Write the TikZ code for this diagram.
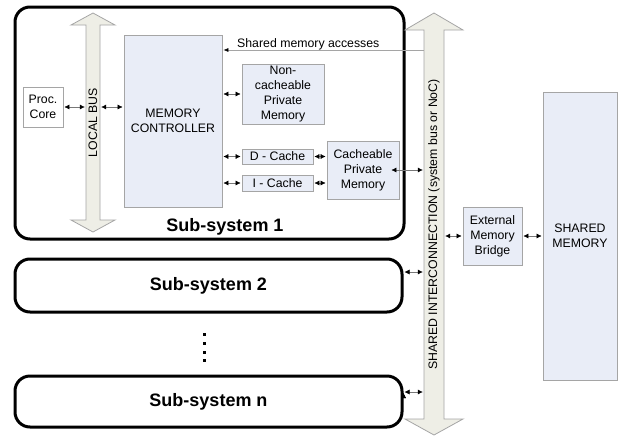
\documentclass[tikz,border=0pt]{standalone}
\usepackage{fontspec}
\setmainfont{Liberation Sans}
\usepackage{tikz}
\usetikzlibrary{arrows.meta, positioning}

\definecolor{boxfill}{RGB}{233,237,247}
\definecolor{boxline}{RGB}{165,165,165}
\definecolor{busfill}{RGB}{238,238,230}
\definecolor{linkline}{RGB}{120,120,120}

\begin{document}
\begin{tikzpicture}[x=1pt, y=-1pt,
		every node/.append style = {font=\fontsize{12.3}{15}\selectfont, align=center, inner sep=0pt},
		block/.style = {draw=boxline, fill=boxfill, line width=0.8pt},
		subsys/.style = {draw=black, line width=3pt, rounded corners=15pt},
		bus/.style = {draw=boxline, fill=busfill, line width=0.8pt},
		link/.style = {{Latex[length=5pt,width=5pt,color=black]}-{Latex[length=5pt,width=5pt,color=black]}, draw=linkline, line width=0.5pt, shorten <=1pt, shorten >=1pt}]
	\useasboundingbox (0,0) rectangle (619,437);

				% sub-systems
				\node[subsys, minimum width=389, minimum height=232] (ss1) at (209.5,123) {};
				\node[subsys, minimum width=387, minimum height=53, font=\fontsize{18}{20}\selectfont\bfseries] (ss2) at (208.5,285.5) {Sub-system 2};
				\node[subsys, minimum width=387, minimum height=51, font=\fontsize{18}{20}\selectfont\bfseries] (ssn) at (208.5,401.5) {Sub-system n};
				\node[font=\fontsize{18}{20}\selectfont\bfseries] (ss1title) at (225,227) {Sub-system 1};
				\foreach \y in {334,343,352,360}
					\fill (202.5,\y-1.5) rectangle ++(3,3);

				% buses
				\draw[bus] (86,25) -- (71,25) -- (93,13) -- (115,25) -- (100,25) -- (100,220) -- (115,220) -- (93,232) -- (71,220) -- (86,220) -- cycle;
				\node[minimum width=14, minimum height=195] (lbus) at (93,122.5) {\rotatebox{90}{LOCAL BUS}};
				\draw[bus] (424,30) -- (405,30) -- (434,13) -- (463,30) -- (444,30) -- (444,419) -- (463,419) -- (434,435) -- (405,419) -- (424,419) -- cycle;
				\node[minimum width=20, minimum height=389] (sbus) at (434,224.5) {\rotatebox{90}{SHARED INTERCONNECTION (system bus or NoC)}};

				% blocks
				\node[block, fill=white, minimum width=40, minimum height=40] (core) at (43,107) {Proc.\\Core};
				\node[block, minimum width=98, minimum height=172] (memctrl) at (173,121) {MEMORY\\CONTROLLER};
				\node[block, minimum width=82, minimum height=60] (noncache) at (283,94) {Non-\\cacheable\\Private\\Memory};
				\node[block, minimum width=71, minimum height=15] (dcache) at (277.5,156.5) {D - Cache};
				\node[block, minimum width=71, minimum height=16] (icache) at (277.5,183) {I - Cache};
				\node[block, minimum width=72, minimum height=58] (cachepriv) at (363,170) {Cacheable\\Private\\Memory};
				\node[block, minimum width=59, minimum height=58] (extbridge) at (492.5,236) {External\\Memory\\Bridge};
				\node[block, minimum width=74, minimum height=288] (sharedmem) at (580,236) {SHARED\\MEMORY};

				% shared memory accesses
				\node[anchor=base west] (acclabel) at (237,47) {Shared memory accesses};
				\draw[-{Latex[length=5pt,width=4pt,color=black]}, draw=boxline, line width=0.6pt, shorten >=1pt] (sbus.west |- 0,50) -- (memctrl.east |- 0,50);

				% links
				\path[link]
					(core) edge (core -| lbus.west)
					(lbus.east |- core) edge (memctrl.west |- core)
					(memctrl.east |- noncache) edge (noncache)
					(memctrl.east |- dcache) edge (dcache)
					(memctrl.east |- icache) edge (icache)
					(dcache) edge (cachepriv.west |- dcache)
					(icache) edge (cachepriv.west |- icache)
					([xshift=-9pt]cachepriv.east) edge (cachepriv -| sbus.west)
					(sbus.east |- extbridge) edge (extbridge)
					(extbridge) edge (sharedmem)
					(ss2.east |- 0,272) edge (sbus.west |- 0,272)
					(ssn.east |- 0,392) edge (sbus.west |- 0,392);
\end{tikzpicture}
\end{document}
